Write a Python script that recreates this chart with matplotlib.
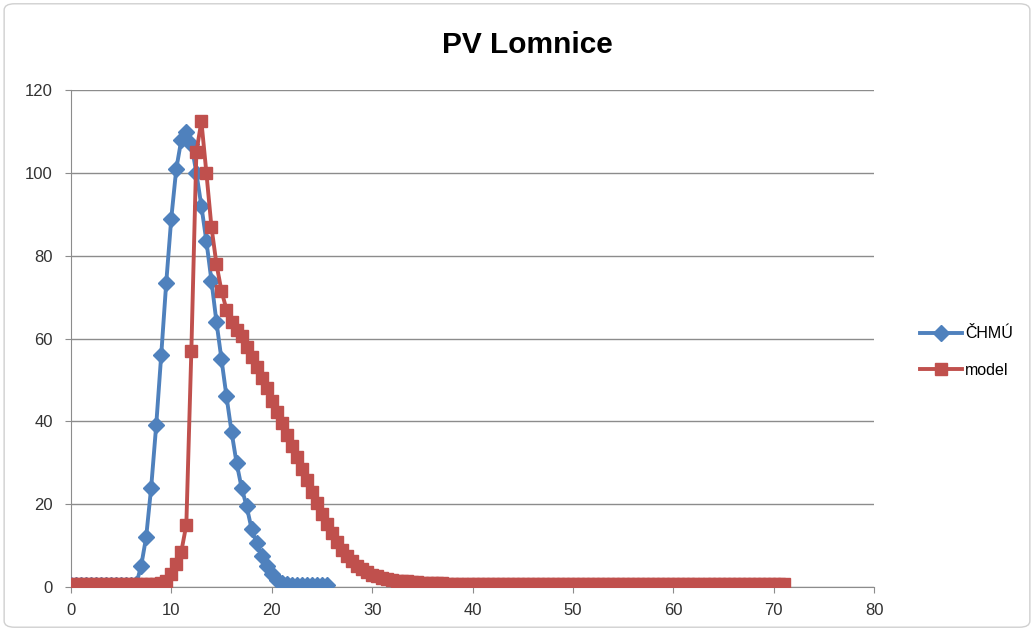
import matplotlib.pyplot as plt
from matplotlib.patches import FancyBboxPatch

# casovy krok 0.5
step = 0.5

chmu = [0.5, 0.5, 0.5, 0.5, 0.5, 0.5, 0.5, 0.5, 0.5, 0.5,
        0.5, 0.5, 0.5, 0.6, 5, 12, 24, 39, 56, 73.5,
        89, 101, 108, 110, 107, 100, 92, 83.5, 74, 64,
        55, 46, 37.5, 30, 24, 19.5, 14, 10.5, 7.5, 5,
        3, 1.7, 1.0, 0.6, 0.5, 0.5, 0.5, 0.5, 0.5, 0.5,
        0.5, 0.5]

model = [0.8, 0.8, 0.8, 0.8, 0.8, 0.8, 0.8, 0.8, 0.8, 0.8,
         0.8, 0.8, 0.8, 0.8, 0.8, 0.8, 0.8, 0.8, 0.9, 1.5,
         3, 5.5, 8.5, 15, 57, 105, 112.5, 100, 87, 78,
         71.5, 67, 64, 62, 60.5, 58, 55.5, 53, 50.5, 48,
         45, 42.3, 39.5, 36.8, 34, 31.3, 28.5, 25.8, 23, 20.3,
         17.7, 15.2, 12.9, 10.8, 9.0, 7.5, 6.2, 5.1, 4.2, 3.5,
         2.9, 2.5, 2.2, 1.9, 1.7, 1.5, 1.4, 1.3, 1.2, 1.1,
         1.0, 1.0, 0.9, 0.9, 0.9, 0.8, 0.8, 0.8, 0.8, 0.8,
         0.8, 0.8, 0.8, 0.8, 0.8, 0.8, 0.8, 0.8, 0.8, 0.8,
         0.8, 0.8, 0.8, 0.8, 0.8, 0.8, 0.8, 0.8, 0.8, 0.8,
         0.8, 0.8, 0.8, 0.8, 0.8, 0.8, 0.8, 0.8, 0.8, 0.8,
         0.8, 0.8, 0.8, 0.8, 0.8, 0.8, 0.8, 0.8, 0.8, 0.8,
         0.8, 0.8, 0.8, 0.8, 0.8, 0.8, 0.8, 0.8, 0.8, 0.8,
         0.8, 0.8, 0.8, 0.8, 0.8, 0.8, 0.8, 0.8, 0.8, 0.8,
         0.8, 0.8, 0.8]

x_chmu = [i * step for i in range(len(chmu))]
x_model = [i * step for i in range(len(model))]

plt.rcParams['font.family'] = ['Liberation Sans', 'DejaVu Sans']

fig = plt.figure(figsize=(10.34, 6.31), dpi=100)
ax = fig.add_axes([0.0685, 0.070, 0.777, 0.787])

ax.plot(x_chmu, chmu, '-D', color='#4F81BD', lw=2.8, ms=8, label='ČHMÚ', zorder=3)
ax.plot(x_model, model, '-s', color='#C0504D', lw=2.8, ms=8.5, label='model', zorder=4)

ax.set_xlim(0, 80)
ax.set_ylim(0, 120)
ax.set_xticks(range(0, 81, 10))
ax.set_yticks(range(0, 121, 20))
ax.grid(True, axis='y', color='#8c8c8c', lw=1)
ax.set_axisbelow(True)
for s in ['top', 'right']:
    ax.spines[s].set_visible(False)
for s in ['left', 'bottom']:
    ax.spines[s].set_color('#8c8c8c')
ax.tick_params(colors='#8c8c8c', labelcolor='#333333', labelsize=12, length=4, direction='out')
ax.tick_params(axis='y', pad=9)
ax.tick_params(axis='x', pad=8)

fig.text(0.51, 0.928, 'PV Lomnice', ha='center', va='center', fontsize=21.5, fontweight='bold')

fig.legend(loc='center left', bbox_to_anchor=(0.876, 0.442), frameon=False,
           fontsize=11.5, handlelength=2.6, handletextpad=0.2, labelspacing=1.35)

# ramecek grafu
fig.patches.append(FancyBboxPatch((0.004, 0.006), 0.992, 0.988, boxstyle='round,pad=0,rounding_size=0.01',
                                  transform=fig.transFigure, fill=False, ec='#d0d0d0', lw=1))

fig.savefig('out.png', dpi=100)
